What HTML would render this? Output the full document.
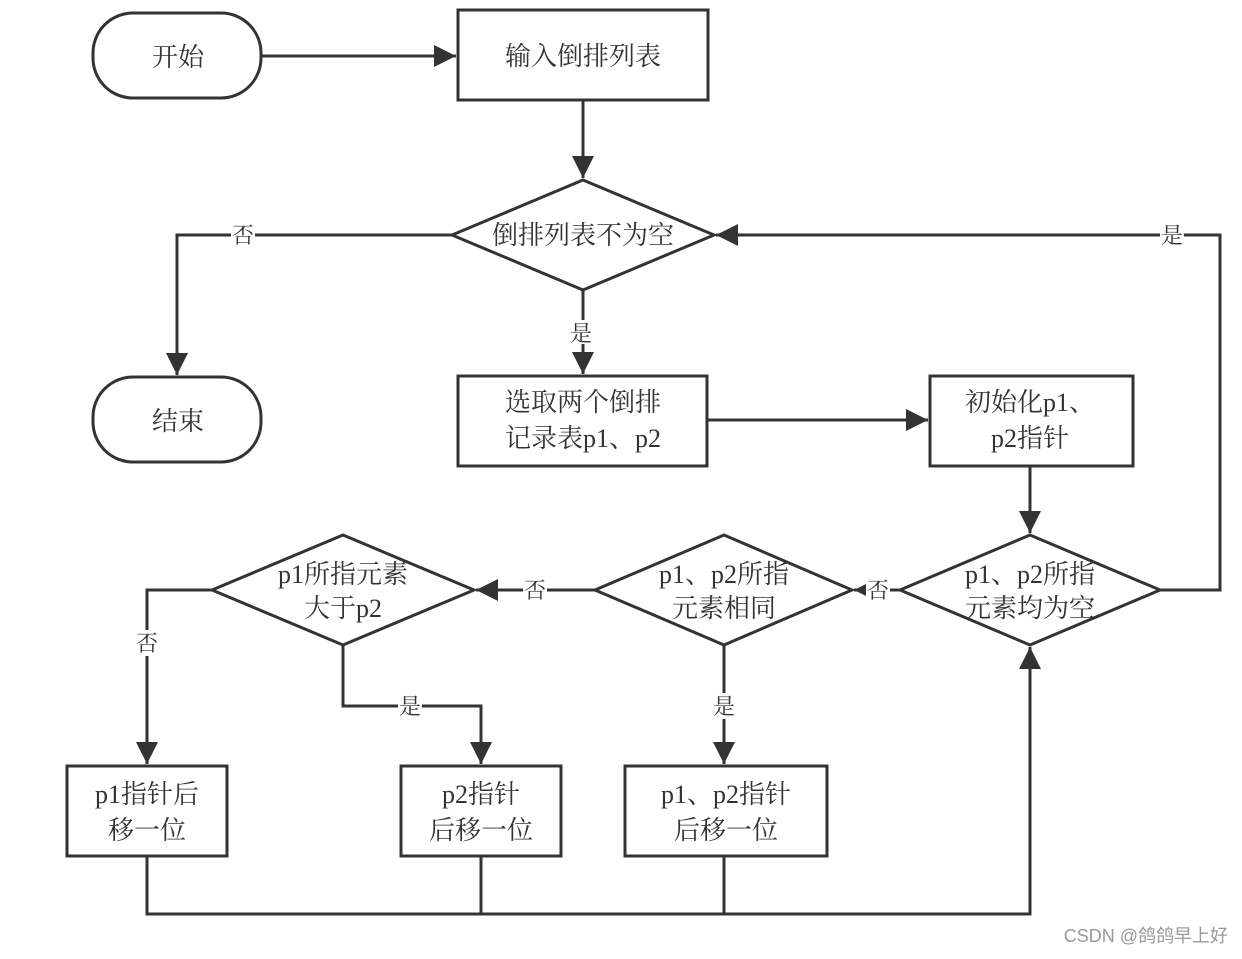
<!DOCTYPE html>
<html><head><meta charset="utf-8"><style>
html,body{margin:0;padding:0;background:#fff;}
svg text{font-family:"Liberation Serif","Noto Serif CJK SC",serif;fill:#333;}
</style></head><body>
<svg width="1242" height="954" viewBox="0 0 1242 954" xmlns="http://www.w3.org/2000/svg">
<defs><marker id="a" markerWidth="10" markerHeight="10" refX="9" refY="5" orient="auto" markerUnits="userSpaceOnUse"><path d="M0,0 L28,5 L0,10 z" transform="scale(0.35,1)" fill="#333"/></marker>
<marker id="b" viewBox="0 0 10 10" markerWidth="28" markerHeight="22" refX="10" refY="5" orient="auto" markerUnits="userSpaceOnUse"><path d="M0,0 L10,5 L0,10 z" fill="#333"/></marker></defs>
<g stroke="#333" stroke-width="3" fill="none">
<rect x="93" y="13" width="168" height="85" rx="40" fill="#fff"/>
<rect x="93" y="377" width="168" height="85" rx="40" fill="#fff"/>
<rect x="458" y="10" width="250" height="90"/>
<rect x="458" y="376" width="249" height="90"/>
<rect x="930" y="376" width="203" height="90"/>
<rect x="67" y="766" width="160" height="90"/>
<rect x="401" y="766" width="160" height="90"/>
<rect x="625" y="766" width="202" height="90"/>
<polygon points="452,235 583,180 714,235 583,290"/>
<polygon points="900,590 1030,535 1160,590 1030,645"/>
<polygon points="595,590 724,535 852,590 724,645"/>
<polygon points="212,590 343,535 474,590 343,645"/>
<path d="M261,56 H456" marker-end="url(#b)"/>
<path d="M583,100 V178" marker-end="url(#b)"/>
<path d="M452,235 H177 V375" marker-end="url(#b)"/>
<path d="M583,290 V374" marker-end="url(#b)"/>
<path d="M707,420 H928" marker-end="url(#b)"/>
<path d="M1030,466 V533" marker-end="url(#b)"/>
<path d="M1160,590 H1220 V235 H716" marker-end="url(#b)"/>
<path d="M900,590 H854" marker-end="url(#b)"/>
<path d="M595,590 H476" marker-end="url(#b)"/>
<path d="M212,590 H147 V764" marker-end="url(#b)"/>
<path d="M343,645 V706 H481 V764" marker-end="url(#b)"/>
<path d="M724,645 V764" marker-end="url(#b)"/>
<path d="M147,856 V914 H1030 V647" marker-end="url(#b)"/>
<path d="M481,856 V914 M724,856 V914"/>
</g>
<g font-size="26" text-anchor="middle">
<text x="178" y="66">开始</text>
<text x="178" y="430">结束</text>
<text x="583" y="65">输入倒排列表</text>
<text x="583" y="244">倒排列表不为空</text>
<text x="583" y="411">选取两个倒排</text>
<text x="583" y="447">记录表p1、p2</text>
<text x="1030" y="411">初始化p1、</text>
<text x="1030" y="447">p2指针</text>
<text x="1030" y="583">p1、p2所指</text>
<text x="1030" y="617">元素均为空</text>
<text x="724" y="583">p1、p2所指</text>
<text x="724" y="617">元素相同</text>
<text x="343" y="583">p1所指元素</text>
<text x="343" y="617">大于p2</text>
<text x="147" y="803">p1指针后</text>
<text x="147" y="839">移一位</text>
<text x="481" y="803">p2指针</text>
<text x="481" y="839">后移一位</text>
<text x="726" y="803">p1、p2指针</text>
<text x="726" y="839">后移一位</text>
</g>
<g font-size="22" text-anchor="middle">
<rect x="231" y="223" width="24" height="24" fill="#fff"/><text x="243" y="243">否</text>
<rect x="1160" y="223" width="24" height="24" fill="#fff"/><text x="1172" y="243">是</text>
<rect x="569" y="320" width="24" height="24" fill="#fff"/><text x="581" y="341">是</text>
<rect x="866" y="577" width="24" height="26" fill="#fff"/><text x="878" y="598">否</text>
<rect x="523" y="577" width="24" height="26" fill="#fff"/><text x="535" y="598">否</text>
<rect x="135" y="630" width="24" height="26" fill="#fff"/><text x="147" y="651">否</text>
<rect x="398" y="694" width="24" height="24" fill="#fff"/><text x="410" y="714">是</text>
<rect x="712" y="693" width="24" height="26" fill="#fff"/><text x="724" y="714">是</text>
</g>
<text x="1228" y="942" font-size="18" text-anchor="end" style="font-family:'Liberation Sans','Noto Sans CJK SC',sans-serif;fill:#999">CSDN @鸽鸽早上好</text>
</svg>
</body></html>
